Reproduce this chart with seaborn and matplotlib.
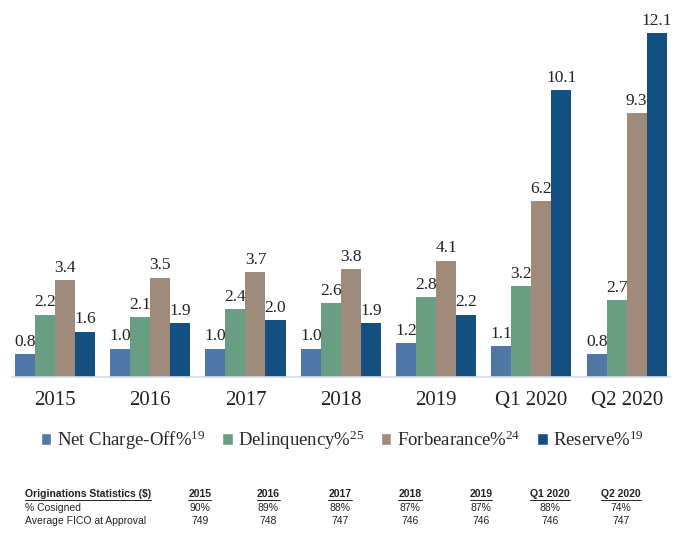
import pandas as pd
import numpy as np
import matplotlib
matplotlib.use('Agg')
import matplotlib.pyplot as plt
import seaborn as sns
from matplotlib.patches import Patch
from matplotlib.lines import Line2D

# Данные графика
periods = ['2015', '2016', '2017', '2018', '2019', 'Q1 2020', 'Q2 2020']
net_charge_off = [0.8, 1.0, 1.0, 1.0, 1.2, 1.1, 0.8]
delinquency = [2.2, 2.1, 2.4, 2.6, 2.8, 3.2, 2.7]
forbearance = [3.4, 3.5, 3.7, 3.8, 4.1, 6.2, 9.3]
reserve = [1.6, 1.9, 2.0, 1.9, 2.2, 10.1, 12.1]
metrics = ['Net Charge-Off%', 'Delinquency%', 'Forbearance%', 'Reserve%']
footnotes = ['19', '25', '24', '19']
colors = ['#5077a8', '#6a9e82', '#a08b7b', '#144f82']

# Таблица под графиком
table_title = 'Originations Statistics ($)'
row_labels = ['% Cosigned', 'Average FICO at Approval']
pct_cosigned = ['90%', '89%', '88%', '87%', '87%', '88%', '74%']
avg_fico = ['749', '748', '747', '746', '746', '746', '747']

df = pd.DataFrame({
    'period': periods * 4,
    'metric': [m for m in metrics for _ in periods],
    'value': net_charge_off + delinquency + forbearance + reserve,
})

sns.set_style('white')
plt.rcParams['font.family'] = ['Liberation Serif', 'DejaVu Serif']
plt.rcParams['mathtext.fontset'] = 'custom'
plt.rcParams['mathtext.rm'] = 'Liberation Serif'
plt.rcParams['mathtext.it'] = 'Liberation Serif'

fig = plt.figure(figsize=(6.85, 5.34), dpi=100)
ax = fig.add_axes([0.0175, 1 - 377 / 534, 0.96, (377 - 10) / 534])

sns.barplot(data=df, x='period', y='value', hue='metric', palette=colors,
            width=0.84, saturation=1, edgecolor='none', legend=False, ax=ax)

for c in ax.containers:
    ax.bar_label(c, fmt='%.1f', padding=3, fontsize=12.5, color='#222222')

ax.set_xlim(-0.45, 6.45)
ax.set_ylim(0, 12.92)
ax.set_yticks([])
ax.set_xlabel('')
ax.set_ylabel('')
for s in ['top', 'right', 'left']:
    ax.spines[s].set_visible(False)
ax.spines['bottom'].set_color('#d5dde8')
ax.spines['bottom'].set_linewidth(1.2)
ax.tick_params(axis='x', length=0, pad=10, labelsize=15, labelcolor='#222222')

handles = [Patch(facecolor=c, label=m + r'$^{\mathrm{' + f + '}}$')
           for c, m, f in zip(colors, metrics, footnotes)]
fig.legend(handles=handles, loc='center', bbox_to_anchor=(0.5, 1 - 440 / 534),
           ncol=4, frameon=False, handlelength=0.55, handleheight=0.55,
           handletextpad=0.3, columnspacing=0.9,
           prop={'family': ['Liberation Serif', 'DejaVu Serif'], 'size': 13.5})

# Таблица
col_x = [200, 268, 340, 410, 481, 550, 621]
y_rows = [1 - 494 / 534, 1 - 508 / 534, 1 - 521 / 534]
tfont = {'family': 'Liberation Sans', 'size': 7.5, 'color': '#222222'}
headers = []
headers.append(fig.text(25 / 685, y_rows[0], table_title, ha='left', va='center',
                        fontweight='bold', **tfont))
for x, p, cs, fi in zip(col_x, periods, pct_cosigned, avg_fico):
    headers.append(fig.text(x / 685, y_rows[0], p, ha='center', va='center',
                            fontweight='bold', **tfont))
    fig.text(x / 685, y_rows[1], cs, ha='center', va='center', **tfont)
    fig.text(x / 685, y_rows[2], fi, ha='center', va='center', **tfont)
fig.text(25 / 685, y_rows[1], row_labels[0], ha='left', va='center', **tfont)
fig.text(25 / 685, y_rows[2], row_labels[1], ha='left', va='center', **tfont)

# подчеркивание заголовков
fig.canvas.draw()
r = fig.canvas.get_renderer()
for t in headers:
    bb = t.get_window_extent(r).transformed(fig.transFigure.inverted())
    fig.add_artist(Line2D([bb.x0, bb.x1], [bb.y0 - 0.002, bb.y0 - 0.002],
                          color='#222222', lw=0.7, transform=fig.transFigure))

fig.savefig('out.png', dpi=100)
